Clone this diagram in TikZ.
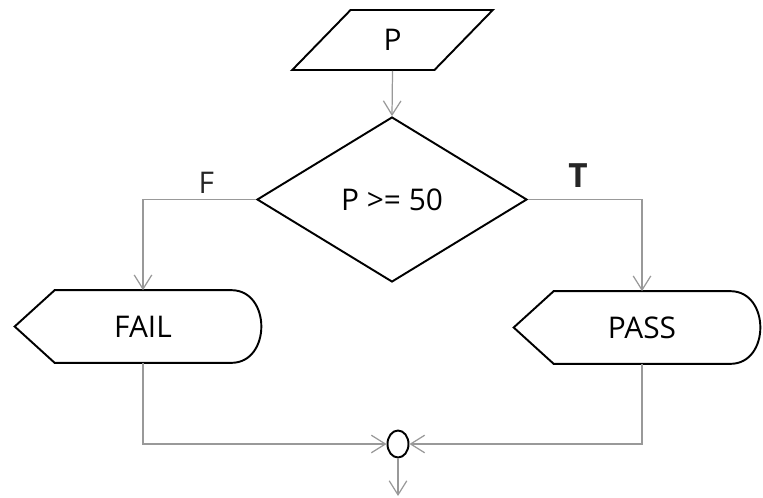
\documentclass[tikz,border=0pt]{standalone}
\usepackage{fontspec}
\setmainfont{Open Sans}
\usetikzlibrary{arrows.meta, shapes.geometric, calc}

\tikzset{
  flowline/.style={gray!80, line width=0.7pt, -{Straight Barb[length=8pt, width=10pt]}},
  outline/.style={line width=1.1pt, line join=miter},
  branch/.style={text=black!85},
  inputbox/.style={trapezium, trapezium left angle=58, trapezium right angle=122,
    trapezium stretches=true, draw, outline, minimum width=4.02cm, minimum height=1.2cm},
  decision/.style={diamond, draw, outline, minimum width=5.4cm, minimum height=3.3cm, inner sep=0pt},
  displaybody/.style={minimum width=3.52cm, minimum height=1.44cm, inner sep=0pt},
  joint/.style={ellipse, draw, outline, minimum width=0.42cm, minimum height=0.54cm, inner sep=0pt},
}

% pointed left end, rounded right end round a text node
\newcommand{\displayoutline}[1]{%
  \draw[outline] ($(#1.west)+(-40,0)$) -- (#1.north west) -- (#1.north east)
    .. controls ($(#1.north east)+(40,0)$) and ($(#1.south east)+(40,0)$) .. (#1.south east)
    -- (#1.south west) -- cycle;}

\begin{document}
\begin{tikzpicture}[x=0.02cm, y=-0.02cm, font=\fontsize{17}{20}\selectfont]
      \useasboundingbox (0,0) rectangle (763,497);

      % Input and test
      \node[inputbox] (input) at (392.5,40) {P};
      \node[decision] (test) at (392,199.5) {P >= 50};

      % Both outcomes
      \node[displaybody] (fail) at (143,326.5) {FAIL};
      \node[displaybody] (pass) at (642,327.5) {PASS};
      \displayoutline{fail}
      \displayoutline{pass}

      % Joining point and way out
      \node[joint] (join) at (398,444) {};
      \coordinate (exit) at (398,496);

      % Connectors
      \draw[flowline] (input.south) -- (test.north);
      \draw[flowline] (test.west) -| (fail.north) node[branch, pos=0.22, above] {F};
      \draw[flowline] (test.east) -| (pass.north)
        node[branch, pos=0.22, above=3pt, font=\fontsize{19}{22}\selectfont\bfseries] {T};
      \draw[flowline] (fail.south) |- (join.west);
      \draw[flowline] (pass.south) |- (join.east);
      \draw[flowline] (join.south) -- (exit);
    \end{tikzpicture}
\end{document}
